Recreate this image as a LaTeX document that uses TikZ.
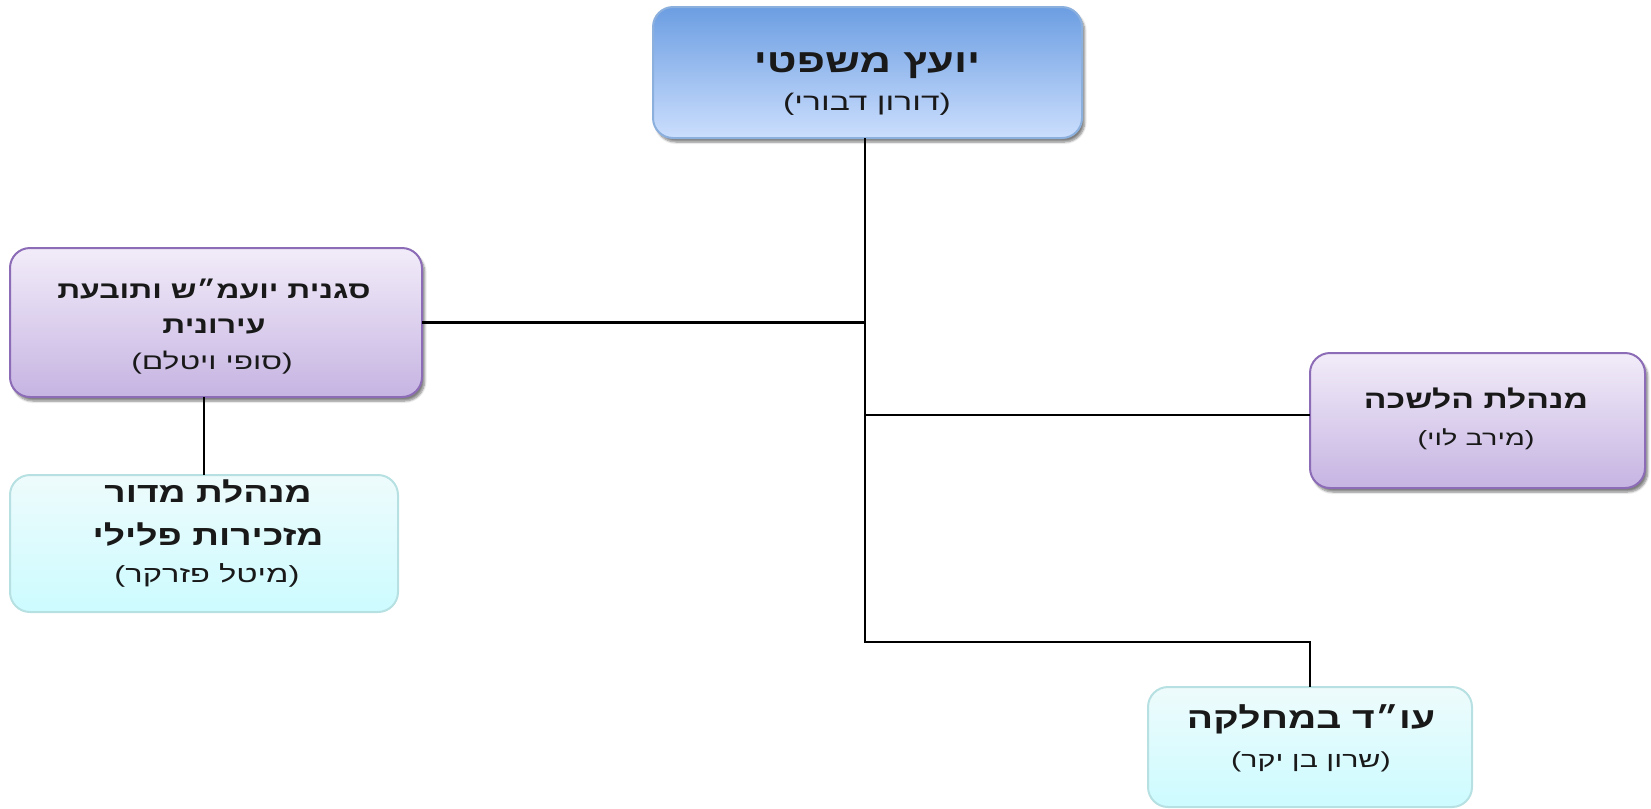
\documentclass[tikz,border=0pt]{standalone}
\usepackage{fontspec}
\newfontfamily\hebfont[Script=Hebrew,FakeStretch=1.33]{Liberation Sans}
\newfontfamily\hebsub[Script=Hebrew,FakeStretch=1.4]{Liberation Sans}
\TeXXeTstate=1
\usetikzlibrary{shadows.blur}
\definecolor{blueTop}{RGB}{108,158,226}
\definecolor{blueBot}{RGB}{203,222,253}
\definecolor{blueBorder}{RGB}{140,176,222}
\definecolor{purpTop}{RGB}{242,236,249}
\definecolor{purpBot}{RGB}{198,180,226}
\definecolor{purpBorder}{RGB}{140,108,182}
\definecolor{cyanTop}{RGB}{238,251,252}
\definecolor{cyanBot}{RGB}{204,251,255}
\definecolor{cyanBorder}{RGB}{183,224,226}
\newcommand\heb[1]{\beginR #1\endR}
\begin{document}
\begin{tikzpicture}[x=0.75pt,y=-0.75pt,
  box/.style={rectangle, rounded corners=15pt, line width=1.5pt, inner sep=0pt, outer sep=0pt},
  shadowed/.style={blur shadow={shadow xshift=2pt, shadow yshift=-3pt, shadow blur steps=6, shadow opacity=50}},
  bluebox/.style={box, shadowed, draw=blueBorder, top color=blueTop, bottom color=blueBot},
  purpbox/.style={box, shadowed, draw=purpBorder, top color=purpTop, bottom color=purpBot},
  cyanbox/.style={box, draw=cyanBorder, top color=cyanTop, bottom color=cyanBot},
  boldline/.style={anchor=base, inner sep=0pt, text=black!90, font=\hebfont\bfseries\fontsize{#1}{#1}\selectfont},
  boldline/.default=18,
  subline/.style={anchor=base, inner sep=0pt, text=black!90, font=\hebsub\fontsize{#1}{#1}\selectfont},
  subline/.default=15.5,
  conn/.style={line width=1.9pt, black}]
\useasboundingbox (0,0) rectangle (1651,808);

% boxes
\node[bluebox, minimum width=321.75pt, minimum height=98.25pt] (top) at (867.5,72.5) {};
\node[purpbox, minimum width=309pt, minimum height=111.75pt] (lp) at (216,322.5) {};
\node[cyanbox, minimum width=291pt, minimum height=102.75pt] (lc) at (204,543.5) {};
\node[purpbox, minimum width=251.25pt, minimum height=101.25pt] (rp) at (1477.5,420.5) {};
\node[cyanbox, minimum width=243pt, minimum height=90pt] (bc) at (1310,747) {};

% connectors
\coordinate (turn) at (865,642);
\draw[conn] (top.south -| turn) -- (turn) -| (bc.north);
\draw[conn] (lp.east -| turn) -- (lp.east);
\draw[conn] ([yshift=4.1pt]rp.west -| turn) -- ([yshift=4.1pt]rp.west);
\draw[conn] (lp.south -| lc.north) -- (lc.north);

% texts
\node[boldline=24.5] (t1) at (867,72) {\heb{יועץ משפטי}};
\node[subline=18] (t1s) at (867,110) {\heb{(דורון דבורי)}};

\node[boldline=18] (t2a) at (214,298) {\heb{סגנית יועמ״ש ותובעת}};
\node[boldline=18] (t2b) at (214,333) {\heb{עירונית}};
\node[subline=17] (t2s) at (212,369) {\heb{(סופי ויטלם)}};

\node[boldline=21] (t3a) at (208,502) {\heb{מנהלת מדור}};
\node[boldline=21] (t3b) at (208,545) {\heb{מזכירות פלילי}};
\node[subline=17.5] (t3s) at (207,582) {\heb{(מיטל פזרקר)}};

\node[boldline=19] (t4a) at (1476,408) {\heb{מנהלת הלשכה}};
\node[subline=15.5] (t4s) at (1476,445) {\heb{(מירב לוי)}};

\node[boldline=22] (t5a) at (1311,728) {\heb{עו״ד במחלקה}};
\node[subline=16.3] (t5s) at (1311,767) {\heb{(שרון בן יקר)}};
\end{tikzpicture}
\end{document}
